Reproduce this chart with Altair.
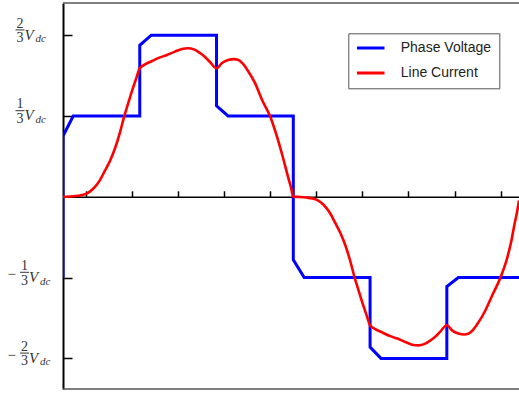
import altair as alt
import pandas as pd

# ---------------- data (x in electrical degrees, y in units of Vdc) ----------------
volt_deg = [0, 0, 8, 60, 60, 69, 120, 120, 129, 180, 180, 188.5, 240, 240, 248.5,
            300, 300, 309, 356.4]
volt_val = [-1/3, 0.25, 1/3, 1/3, 0.625, 2/3, 2/3, 0.375, 1/3, 1/3, -0.26, -1/3,
            -1/3, -0.62, -2/3, -2/3, -0.37, -1/3, -1/3]

cur_deg = [0, 5.5, 10.2, 14.9, 18.8, 23.4, 28.9, 32.8, 36.7, 40.6, 44.6, 47.7, 50.8,
           53.9, 57.1, 60, 64.1, 69.6, 75.8, 81.3, 87.5, 93.0, 97.7, 102.4, 107.1,
           111.0, 114.9, 120, 124.3, 129.0, 133.6, 136.8, 140.7, 144.6, 150.1, 155.6,
           161.8, 167.3, 172.0, 175.9, 178.3, 180,
           185.5, 190.2, 194.9, 198.8, 203.4, 208.9, 212.8, 216.7, 220.6, 224.6, 227.7,
           230.8, 233.9, 237.1, 240, 244.1, 249.6, 255.8, 261.3, 267.5, 273.0, 277.7,
           282.4, 287.1, 291.0, 294.9, 300, 304.3, 309.0, 313.6, 316.8, 320.7, 324.6,
           330.1, 335.6, 341.8, 347.3, 350.5, 353.0, 355.0, 356.4]
cur_val = [0, 0.001, 0.003, 0.007, 0.014, 0.032, 0.069, 0.108, 0.148, 0.199, 0.267,
           0.329, 0.383, 0.436, 0.486, 0.530, 0.546, 0.560, 0.575, 0.585, 0.599, 0.610,
           0.613, 0.608, 0.593, 0.577, 0.556, 0.530, 0.552, 0.564, 0.568, 0.565, 0.548,
           0.519, 0.469, 0.399, 0.333, 0.247, 0.160, 0.082, 0.036, 0,
           -0.001, -0.003, -0.007, -0.014, -0.032, -0.069, -0.108, -0.148, -0.199,
           -0.267, -0.329, -0.383, -0.436, -0.486, -0.530, -0.546, -0.560, -0.575,
           -0.585, -0.599, -0.610, -0.613, -0.608, -0.593, -0.577, -0.556, -0.530,
           -0.552, -0.564, -0.568, -0.565, -0.548, -0.519, -0.469, -0.405, -0.335,
           -0.25, -0.18, -0.11, -0.06, -0.015]

series_names = ["Phase Voltage", "Line Current"]
x_ticks = [18, 54, 90, 126, 162, 198, 234, 270, 306, 342]
y_ticks = [2/3, 1/3, -1/3, -2/3]
y_nums = ["2", "1", "1", "2"]
y_signs = ["", "", "\u2212", "\u2212"]

x_dom = [0, 356.4]
y_dom = [-0.793, 0.7995]

# ---------------- tables ----------------
vdf = pd.DataFrame({"deg": volt_deg, "val": volt_val, "i": range(len(volt_deg)),
                    "series": series_names[0]})
cdf = pd.DataFrame({"deg": cur_deg, "val": cur_val, "i": range(len(cur_deg)),
                    "series": series_names[1]})
ldf = pd.DataFrame({"value": y_ticks, "num": y_nums, "sign": y_signs})
edf = pd.DataFrame({"edge": y_dom})

W, H = 456, 386
xs = alt.Scale(domain=x_dom, nice=False, zero=False)
ys = alt.Scale(domain=y_dom, nice=False, zero=False)
zero_off = -(y_dom[1] / (y_dom[1] - y_dom[0]) * H)

x_axis = alt.Axis(
    orient="top", offset=zero_off, values=x_ticks, labels=False, title=None,
    tickSize=6, tickWidth=1.5, tickColor="black", domainColor="black",
    domainWidth=1.5, grid=False)
y_axis = alt.Axis(
    orient="right", offset=-W, values=y_ticks, labels=False, title=None,
    tickSize=9, tickWidth=1.5, tickColor="black", domainColor="black",
    domainWidth=2, grid=False)

color = alt.Color(
    "series:N",
    scale=alt.Scale(domain=series_names, range=["#0000ff", "#ff0000"]),
    legend=alt.Legend(
        title=None, orient="none", legendX=285.3, legendY=30.3, padding=7.7,
        strokeColor="#555555", fillColor="white",
        symbolType="M-2.5,0H2.5", symbolSize=121, symbolStrokeWidth=3,
        symbolOffset=7.75, labelOffset=23, rowPadding=11,
        labelFont="Liberation Sans", labelFontSize=14, labelColor="#222222",
    ),
)

X = alt.X("deg:Q", scale=xs, axis=x_axis)
Y = alt.Y("val:Q", scale=ys, axis=y_axis)

volt = alt.Chart(vdf).mark_line(strokeWidth=3, clip=True).encode(
    x=X, y=Y, color=color, order="i:Q")

cur = alt.Chart(cdf).mark_line(strokeWidth=2.6, clip=True, interpolate="monotone").encode(
    x=X, y=Y, color=color, order="i:Q")

frame = alt.Chart(edf).mark_rule(color="#555555", strokeWidth=1.5).encode(
    y=alt.Y("edge:Q", scale=ys, axis=y_axis)
)

TXT = "#333333"
SERIF = "Liberation Serif"


def label_parts(cond, shift):
    base = alt.Chart(ldf).transform_filter(cond)
    yenc = alt.Y("value:Q", scale=ys, axis=y_axis)
    num = base.mark_text(align="center", baseline="alphabetic", dy=-7.5, font=SERIF,
                         fontSize=14, color=TXT).encode(
        x=alt.value(-43 + shift), y=yenc, text="num:N")
    bar = base.mark_rule(yOffset=-5.3, strokeWidth=1, color=TXT).encode(
        x=alt.value(-47.5 + shift), x2=alt.value(-38.5 + shift), y=yenc)
    den = base.mark_text(align="center", baseline="alphabetic", dy=7, font=SERIF,
                         fontSize=14, color=TXT).encode(
        x=alt.value(-43 + shift), y=yenc, text=alt.value("3"))
    vv = base.mark_text(align="left", baseline="alphabetic", dy=4.5, font=SERIF,
                        fontSize=15, fontStyle="italic", color=TXT).encode(
        x=alt.value(-38.5 + shift), y=yenc, text=alt.value("V"))
    dc = base.mark_text(align="left", baseline="alphabetic", dy=7, font=SERIF,
                        fontSize=11, fontStyle="italic", color=TXT).encode(
        x=alt.value(-27.5 + shift), y=yenc, text=alt.value("dc"))
    return [num, bar, den, vv, dc]


pos_parts = label_parts("datum.value > 0", 0)
neg_parts = label_parts("datum.value < 0", 4.5)
minus = alt.Chart(ldf).transform_filter("datum.value < 0").mark_text(
    align="center", baseline="alphabetic", dy=1.5, font=SERIF, fontSize=15, color=TXT
).encode(x=alt.value(-51.3), y=alt.Y("value:Q", scale=ys, axis=y_axis), text="sign:N")

chart = alt.layer(volt, cur, frame, *pos_parts, *neg_parts, minus).properties(
    width=W, height=H,
    autosize=alt.AutoSizeParams(type="none"),
    padding={"left": 63, "top": 3, "right": 0, "bottom": 7},
    background="white",
).configure_view(strokeWidth=0)

chart.save("out.html", embed_options={"renderer": "svg", "actions": False})
